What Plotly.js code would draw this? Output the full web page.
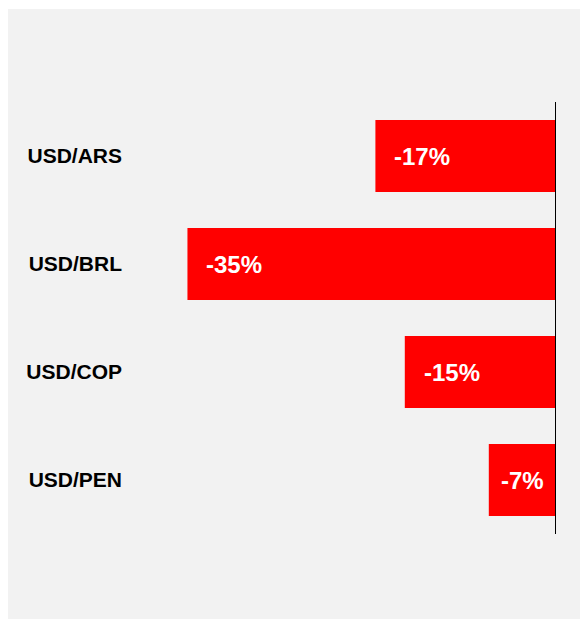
<!DOCTYPE html>
<html>
<head>
<meta charset="utf-8">
<script src="https://cdn.plot.ly/plotly-3.0.1.min.js"></script>
<style>
html,body{margin:0;padding:0;background:#ffffff;}
#chart{position:absolute;left:8px;top:9px;width:572px;height:610px;}
</style>
</head>
<body>
<div id="chart"></div>
<script>
const categories = ["USD/ARS", "USD/BRL", "USD/COP", "USD/PEN"];
const changes = [-17.2, -35.1, -14.4, -6.4];
const labels = ["-17%", "-35%", "-15%", "-7%"];

const W = 572, H = 610;
const margin = {l: 118, r: 24, t: 93, b: 85};
const plotW = W - margin.l - margin.r;
const pxPerUnit = 10.5;
const xmin = -plotW / pxPerUnit;

const annotations = categories.map((c, i) => {
  const v = changes[i];
  const barPx = Math.abs(v) * pxPerUnit;
  const narrow = barPx < 100;
  return {
    x: narrow ? v / 2 : v,
    y: c,
    xref: 'x', yref: 'y',
    text: labels[i],
    showarrow: false,
    xanchor: narrow ? 'center' : 'left',
    xshift: narrow ? 0 : 17,
    font: {family: 'Liberation Sans, Arial, sans-serif', size: 24, color: '#ffffff', weight: 'bold'}
  };
});

const trace = {
  type: 'bar',
  orientation: 'h',
  x: changes,
  y: categories,
  marker: {color: '#ff0000', line: {width: 0}},
  hoverinfo: 'none'
};

const layout = {
  width: W, height: H,
  margin: margin,
  paper_bgcolor: '#f2f2f2',
  plot_bgcolor: '#f2f2f2',
  showlegend: false,
  bargap: 1/3,
  xaxis: {
    range: [xmin, 0],
    showgrid: false,
    showticklabels: false,
    zeroline: false,
    showline: false,
    ticks: '',
    fixedrange: true
  },
  yaxis: {
    type: 'category',
    autorange: 'reversed',
    showgrid: false,
    zeroline: false,
    showline: false,
    ticks: '',
    ticklabelstandoff: 3,
    tickfont: {family: 'Liberation Sans, Arial, sans-serif', size: 21, color: '#000000', weight: 'bold'},
    fixedrange: true
  },
  shapes: [{
    type: 'line', xref: 'x', yref: 'paper',
    x0: 0, x1: 0, y0: 0, y1: 1,
    line: {color: '#000000', width: 2}
  }],
  annotations: annotations
};

Plotly.newPlot('chart', [trace], layout, {displayModeBar: false, staticPlot: true});
</script>
</body>
</html>
